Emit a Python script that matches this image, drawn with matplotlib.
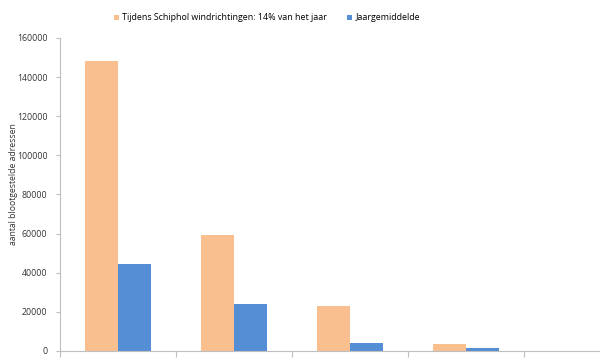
import numpy as np
import matplotlib
matplotlib.use('Agg')
import matplotlib.pyplot as plt

# values
categories = ['1', '2', '3', '4']
schiphol_wind = [148300, 59000, 23100, 3400]
jaargemiddelde = [44300, 23800, 4200, 1500]
yticks = [0, 20000, 40000, 60000, 80000, 100000, 120000, 140000, 160000]

plt.rcParams['font.family'] = ['Open Sans', 'DejaVu Sans']

fig = plt.figure(figsize=(6, 3.58), dpi=100)
ax = fig.add_axes([0.1, 0.02, 0.9, 0.874])

x = np.arange(len(categories))
w = 0.285
ax.bar(x - w / 2, schiphol_wind, width=w, color='#F9BF8F',
       label='Tijdens Schiphol windrichtingen: 14% van het jaar')
ax.bar(x + w / 2, jaargemiddelde, width=w, color='#558ED5',
       label='Jaargemiddelde')

ax.set_xlim(-0.5, 4.16)
ax.set_ylim(0, 160000)
ax.set_yticks(yticks)
ax.set_yticklabels([str(v) for v in yticks], fontsize=6.3, color='#333333')
ax.set_xticks(np.arange(len(categories) + 1) - 0.5)
ax.set_xticklabels([])
ax.tick_params(axis='x', length=4, color='#BFBFBF', width=0.8)
ax.tick_params(axis='y', length=3, color='#BFBFBF', width=0.8, pad=6)

for s in ['top', 'right']:
    ax.spines[s].set_visible(False)
for s in ['left', 'bottom']:
    ax.spines[s].set_color('#BFBFBF')
    ax.spines[s].set_linewidth(0.8)

fig.text(0.022, 0.485, 'aantal blootgestelde adressen', rotation=90, fontsize=6.2,
         color='#333333', ha='center', va='center')

fig.legend(loc='upper center', bbox_to_anchor=(0.445, 0.985), ncol=2, frameon=False,
           fontsize=6.4, handlelength=0.55, handleheight=0.55, handletextpad=0.4,
           columnspacing=2.2)

fig.savefig('out.png', dpi=100)
